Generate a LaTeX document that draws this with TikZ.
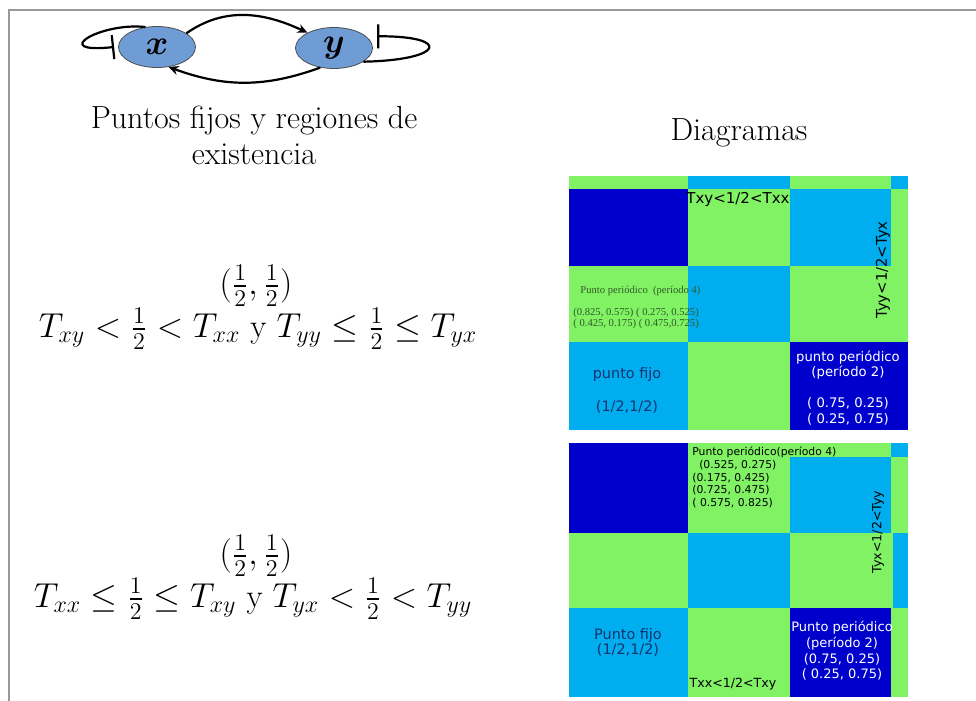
\documentclass[tikz,border=0pt]{standalone}
\usepackage{amsmath}
\usepackage{fontspec}
\usepackage{bm}
\usetikzlibrary{arrows.meta, shapes.geometric}

\newfontfamily\gridsans{DejaVu Sans}
\newfontfamily\gridserif{Liberation Serif}

\definecolor{cellgreen}{RGB}{128,242,100}
\definecolor{cellcyan}{RGB}{0,174,240}
\definecolor{cellnavy}{RGB}{0,0,205}
\definecolor{genefill}{RGB}{112,156,214}
\definecolor{fixtext}{RGB}{20,50,110}
\definecolor{olivetext}{RGB}{50,90,40}

\begin{document}
\begin{tikzpicture}[
  x=0.5pt, y=0.5pt,
  gene/.style={
    ellipse, draw=black!70, fill=genefill,
    minimum width=38.5pt, minimum height=20.5pt,
    inner sep=0pt, font=\LARGE
  },
  act/.style={-{Stealth[length=5pt, width=4.5pt]}, line width=1.1pt},
  inh/.style={-{Bar[width=12pt, line width=1.1pt]}, line width=1.1pt},
  caption/.style={font=\fontsize{16}{18}\selectfont, align=center, inner sep=0pt},
  cond/.style={font=\fontsize{16.6}{20}\selectfont, inner sep=0pt},
  frameline/.style={draw=gray!80, line width=0.8pt},
  gridlbl/.style={font=\gridsans\fontsize{6.6}{7.8}\selectfont, inner sep=0pt, align=center},
  whitelbl/.style={gridlbl, text=white},
  fixlbl/.style={gridlbl, text=fixtext, font=\gridsans\fontsize{7.2}{7.5}\selectfont},
  seriflbl/.style={font=\gridserif\fontsize{5.3}{5.5}\selectfont, text=olivetext, inner sep=0pt, align=left},
]

\useasboundingbox (0,0) rectangle (976,-701);

%% ════════════════════════════════════════════════
%% FRAME
%% ════════════════════════════════════════════════
\draw[frameline] (976,-10) -- (9,-10) -- (9,-701);

%% ════════════════════════════════════════════════
%% NETWORK x <-> y
%% ════════════════════════════════════════════════
\node[gene] (x) at (157,-47) {$\bm{x}$};
\node[gene] (y) at (334,-48) {$\bm{y}$};

\draw[act] (x.25)   to[out=35, in=155]   (y.150);
\draw[act] (y.-125) to[out=-160, in=-20] (x.-60);

%% self loops (inhibition)
\draw[inh] (x.120) .. controls (100,-22) and (48,-54) .. ([xshift=-2pt]x.west);
\draw[inh] (y.-25) .. controls (445,-60) and (452,-36) .. ([xshift=5.5pt]y.20);

%% ════════════════════════════════════════════════
%% LEFT COLUMN — texts and conditions
%% ════════════════════════════════════════════════
\node[caption] (title) at (254,-135) {Puntos fijos y regiones de\\existencia};

\node[cond] (pt1)   at (256,-286) {$(\tfrac{1}{2},\tfrac{1}{2})$};
\node[cond] (cond1) at (258,-329) {$T_{xy}<\tfrac{1}{2}<T_{xx}$ y $T_{yy}\le\tfrac{1}{2}\le T_{yx}$};

\node[cond] (pt2)   at (256,-556) {$(\tfrac{1}{2},\tfrac{1}{2})$};
\node[cond] (cond2) at (253,-599) {$T_{xx}\le\tfrac{1}{2}\le T_{xy}$ y $T_{yx}<\tfrac{1}{2}<T_{yy}$};

\node[caption] (diag) at (739,-133) {Diagramas};

%% ════════════════════════════════════════════════
%% DIAGRAM 1
%% ════════════════════════════════════════════════
\fill[cellgreen] (569,-176) rectangle (908,-430);
\fill[cellcyan]  (688,-176) rectangle (790,-189);
\fill[cellcyan]  (891,-176) rectangle (908,-189);
\fill[cellnavy]  (569,-189) rectangle (688,-266);
\node[gridlbl, anchor=west, font=\gridsans\fontsize{7.5}{8}\selectfont] (ta) at (686,-199) {Txy<1/2<Txx};
\fill[cellcyan]  (790,-189) rectangle (891,-266);
\fill[cellcyan]  (688,-266) rectangle (790,-342);
\fill[cellcyan]  (569,-342) rectangle (688,-430);
\fill[cellnavy]  (790,-342) rectangle (908,-430);

\node[gridlbl, rotate=90, font=\gridsans\fontsize{7.4}{8}\selectfont] (tb) at (883,-270) {Tyy<1/2<Tyx};

\node[seriflbl, anchor=west] (per4a) at (580,-291) {Punto periódico\ \ (período 4)};
\node[seriflbl, anchor=west] (per4b) at (573,-318.5) {(0.825, 0.575) ( 0.275, 0.525)\\( 0.425, 0.175) ( 0.475,0.725)};

\node[fixlbl] (fixa)  at (627,-375) {punto fijo};
\node[fixlbl] (fixb)  at (627,-407) {(1/2,1/2)};

\node[whitelbl] (per2a) at (848,-365)   {punto periódico\\(período 2)};
\node[whitelbl] (per2b) at (848,-411.5) {( 0.75, 0.25)\\( 0.25, 0.75)};

%% ════════════════════════════════════════════════
%% DIAGRAM 2
%% ════════════════════════════════════════════════
\fill[cellgreen] (569,-443) rectangle (908,-697);
\fill[cellnavy]  (569,-443) rectangle (688,-533);
\fill[cellcyan]  (790,-457) rectangle (891,-533);
\fill[cellcyan]  (891,-443) rectangle (908,-457);
\fill[cellcyan]  (688,-533) rectangle (790,-608);
\fill[cellcyan]  (893,-533) rectangle (908,-608);
\fill[cellcyan]  (569,-608) rectangle (688,-697);
\fill[cellnavy]  (790,-608) rectangle (891,-697);

\node[gridlbl, anchor=west, align=left, font=\gridsans\fontsize{5.4}{6.4}\selectfont] (per4c) at (692,-477.5)
  {Punto periódico(período 4)\\\ \ (0.525, 0.275)\\(0.175, 0.425)\\(0.725, 0.475)\\( 0.575, 0.825)};

\node[gridlbl, rotate=90, font=\gridsans\fontsize{6.3}{7}\selectfont] (tc) at (878,-532) {Tyx<1/2<Tyy};
\node[gridlbl, font=\gridsans\fontsize{6.3}{7}\selectfont] (td) at (733,-684) {Txx<1/2<Txy};

\node[fixlbl] (fixc) at (628,-642) {Punto fijo\\(1/2,1/2)};

\node[whitelbl, font=\gridsans\fontsize{6.5}{7.8}\selectfont] (per2c) at (842,-651)
  {Punto periódico\\(período 2)\\(0.75, 0.25)\\( 0.25, 0.75)};

\end{tikzpicture}
\end{document}
